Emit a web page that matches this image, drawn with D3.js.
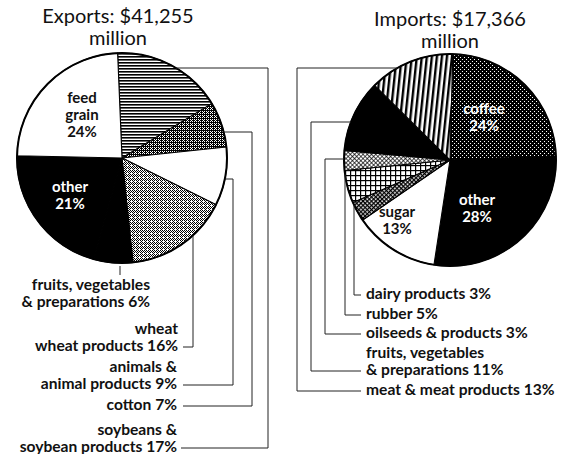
<!DOCTYPE html>
<html>
<head>
<meta charset="utf-8">
<script src="https://cdn.jsdelivr.net/npm/d3@7/dist/d3.min.js"></script>
<style>
  body { margin: 0; background: #fff; }
  svg { display: block; }
  text { font-family: Lato, "Open Sans", sans-serif; fill: #111; }
</style>
</head>
<body>
<svg id="chart" width="569" height="454"></svg>
<script>
// ---- data ----
var exportTotal = 41255;
var importTotal = 17366;

var exportNames = [['soybeans &', 'soybean products'], ['cotton'], ['animals &', 'animal products'],
  ['wheat', 'wheat products'], ['fruits, vegetables', '& preparations'], ['other'], ['feed', 'grain']];
var exportShares = [17, 7, 9, 16, 6, 21, 24];

var importNames = [['coffee'], ['other'], ['sugar'], ['dairy products'], ['rubber'],
  ['oilseeds & products'], ['fruits, vegetables', '& preparations'], ['meat & meat products']];
var importShares = [24, 28, 13, 3, 5, 3, 11, 13];

// ---- fills (pattern ids), per slice ----
var exportFills = ['hstripe', 'dark', 'white', 'light', 'black', 'black', 'white'];
var importFills = ['coffee', 'black', 'white', 'dairy', 'grid', 'oil', 'black', 'vstripe'];

var svg = d3.select('#chart');
var defs = svg.append('defs');

// ordered dither tiles for the stippled fills
var bayer = [[0, 8, 2, 10], [12, 4, 14, 6], [3, 11, 1, 9], [15, 7, 13, 5]];
function stipple(id, dark) {
  var p = defs.append('pattern').attr('id', id).attr('patternUnits', 'userSpaceOnUse')
    .attr('width', 4).attr('height', 4);
  p.append('rect').attr('width', 4).attr('height', 4).attr('fill', '#fff');
  bayer.forEach(function (row, y) {
    row.forEach(function (v, x) {
      if (v < dark) p.append('rect').attr('x', x).attr('y', y).attr('width', 1).attr('height', 1).attr('fill', '#000');
    });
  });
}
stipple('dark', 11);
stipple('light', 7);
stipple('coffee', 14);

function lines(id, w, h, draw, transform) {
  var p = defs.append('pattern').attr('id', id).attr('patternUnits', 'userSpaceOnUse')
    .attr('width', w).attr('height', h);
  if (transform) p.attr('patternTransform', transform);
  p.append('rect').attr('width', w).attr('height', h).attr('fill', '#fff');
  draw(p);
}
lines('hstripe', 8, 3, function (p) {
  p.append('rect').attr('width', 8).attr('height', 1.6).attr('fill', '#000');
});
lines('vstripe', 5, 10, function (p) {
  p.append('rect').attr('width', 2.4).attr('height', 10).attr('fill', '#000');
}, 'rotate(6)');
lines('grid', 5, 5, function (p) {
  p.append('rect').attr('width', 5).attr('height', 1.2).attr('fill', '#000');
  p.append('rect').attr('width', 1.2).attr('height', 5).attr('fill', '#000');
});
lines('dairy', 3, 3, function (p) {
  p.append('rect').attr('width', 3).attr('height', 1.3).attr('fill', '#000');
  p.append('rect').attr('width', 1.3).attr('height', 3).attr('fill', '#000');
}, 'rotate(45)');
lines('oil', 3, 3, function (p) {
  p.append('rect').attr('width', 3).attr('height', 0.7).attr('fill', '#000');
  p.append('rect').attr('width', 0.7).attr('height', 3).attr('fill', '#000');
}, 'rotate(45)');

function fillOf(k) {
  if (k === 'white') return '#fff';
  if (k === 'black') return '#000';
  return 'url(#' + k + ')';
}

function drawPie(cfg, names, shares, fills) {
  var pie = d3.pie().sort(null).value(function (d) { return d; })
    .startAngle(cfg.start * Math.PI / 180)
    .endAngle(cfg.start * Math.PI / 180 + 2 * Math.PI);
  var arcs = pie(shares);
  var arc = d3.arc().innerRadius(0).outerRadius(cfg.r);

  var g = svg.append('g')
    .attr('transform', 'translate(' + cfg.cx + ',' + cfg.cy + ')');

  g.selectAll('path.slice')
    .data(arcs)
    .enter()
    .append('path')
      .attr('class', 'slice')
      .attr('d', arc)
      .attr('fill', function (d, i) { return fillOf(fills[i]); })
      .attr('stroke', '#000')
      .attr('stroke-width', 1.1)
      .attr('stroke-linejoin', 'round');

  g.append('circle').attr('r', cfg.r).attr('fill', 'none')
    .attr('stroke', '#000').attr('stroke-width', 2);

  // title
  var t = svg.append('text').attr('text-anchor', 'middle').attr('font-size', 20);
  t.append('tspan').attr('x', cfg.tx).attr('y', cfg.ty)
    .text(cfg.title + ': $' + d3.format(',')(cfg.total));
  t.append('tspan').attr('x', cfg.tx).attr('y', cfg.ty + 22).text('million');

  // labels inside the pie
  cfg.inside.forEach(function (l) {
    var rows = names[l.i].concat([shares[l.i] + '%']);
    var tx = svg.append('text').attr('text-anchor', 'middle')
      .attr('font-size', 15).attr('font-weight', 700)
      .style('fill', l.color || '#111');
    rows.forEach(function (r, j) {
      tx.append('tspan').attr('x', cfg.cx + l.dx).attr('y', cfg.cy + l.dy + j * 17).text(r);
    });
  });

  // callout labels with leader lines
  cfg.callouts.forEach(function (c) {
    var rows = names[c.i].slice();
    rows[rows.length - 1] += ' ' + shares[c.i] + '%';
    var tx = svg.append('text').attr('text-anchor', c.anchor)
      .attr('font-size', 15.6).attr('font-weight', 700);
    rows.forEach(function (r, j) {
      tx.append('tspan').attr('x', c.lx).attr('y', c.ly - (rows.length - 1 - j) * 17).text(r);
    });

    var pts;
    var lineY = c.ly - 4;
    if (c.hy !== undefined) {
      var ex = cfg.r * Math.sqrt(1 - Math.pow((c.hy - cfg.cy) / cfg.r, 2));
      var x0 = cfg.cx + (c.side || 1) * ex;
      pts = [[x0, c.hy], [c.vx, c.hy], [c.vx, lineY], [c.xe, lineY]];
    } else if (c.vx !== undefined) {
      var ey = cfg.r * Math.sqrt(1 - Math.pow((c.vx - cfg.cx) / cfg.r, 2));
      pts = [[c.vx, cfg.cy + ey], [c.vx, lineY], [c.xe, lineY]];
    } else {
      pts = [[c.tick, cfg.cy + cfg.r + 3], [c.tick, cfg.cy + cfg.r + 12]];
    }
    svg.append('path')
      .attr('d', d3.line()(pts))
      .attr('fill', 'none')
      .attr('stroke', '#222')
      .attr('stroke-width', 1);
  });
}

drawPie({
  cx: 122, cy: 158, r: 105, start: -2.4,
  title: 'Exports', total: exportTotal, tx: 118, ty: 23,
  inside: [
    { i: 6, dx: -40, dy: -55 },
    { i: 5, dx: -52, dy: 34, color: '#fff' }
  ],
  callouts: [
    { i: 4, tick: 120, lx: 150, ly: 307, anchor: 'end' },
    { i: 3, vx: 193, lx: 178, ly: 351, xe: 183, anchor: 'end' },
    { i: 2, hy: 179, vx: 233, lx: 177, ly: 389, xe: 183, anchor: 'end' },
    { i: 1, hy: 132, vx: 252, lx: 177, ly: 410, xe: 183, anchor: 'end' },
    { i: 0, hy: 68, vx: 268, lx: 177, ly: 452, xe: 181, anchor: 'end' }
  ]
}, exportNames, exportShares, exportFills);

drawPie({
  cx: 450, cy: 160, r: 106, start: 1.5,
  title: 'Imports', total: importTotal, tx: 450, ty: 26,
  inside: [
    { i: 0, dx: 34, dy: -46, color: '#fff' },
    { i: 1, dx: 27, dy: 45, color: '#fff' },
    { i: 2, dx: -53, dy: 57 }
  ],
  callouts: [
    { i: 3, vx: 354, lx: 366, ly: 299, xe: 361, anchor: 'start' },
    { i: 4, vx: 345, lx: 366, ly: 319, xe: 361, anchor: 'start' },
    { i: 5, hy: 159, vx: 325, side: -1, lx: 366, ly: 338, xe: 361, anchor: 'start' },
    { i: 6, hy: 122, vx: 311, side: -1, lx: 366, ly: 375, xe: 361, anchor: 'start' },
    { i: 7, hy: 68, vx: 297, side: -1, lx: 366, ly: 395, xe: 361, anchor: 'start' }
  ]
}, importNames, importShares, importFills);
</script>
</body>
</html>
